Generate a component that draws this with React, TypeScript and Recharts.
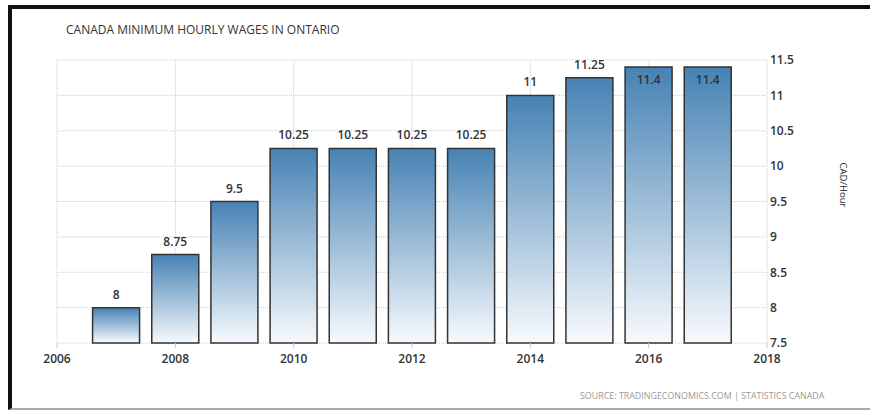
import { Bar, BarChart, CartesianGrid, LabelList, XAxis, YAxis } from "recharts";

const years = [2007, 2008, 2009, 2010, 2011, 2012, 2013, 2014, 2015, 2016, 2017];
const wages = [8, 8.75, 9.5, 10.25, 10.25, 10.25, 10.25, 11, 11.25, 11.4, 11.4];
const xTicks = [2006, 2008, 2010, 2012, 2014, 2016, 2018];
const yTicks = [7.5, 8, 8.5, 9, 9.5, 10, 10.5, 11, 11.5];

const data = years.map((year, i) => ({ year, wage: wages[i] }));

const FONT = "'Open Sans', sans-serif";

// etiqueta encima de la barra, o dentro si no cabe arriba
const WageLabel = (props: any) => {
    const { x, y, width, value } = props;
    const inside = y < 72;
    return (
        <text
            x={x + width / 2}
            y={inside ? y + 17 : y - 9}
            textAnchor="middle"
            fill="#333"
            fontSize={12}
            fontWeight={600}
            fontFamily={FONT}
        >
            {value}
        </text>
    );
};

const App = () => {
    return (
        <div style={{ position: "fixed", left: 0, top: 0, width: 870, height: 412, background: "#fff" }}>
            {/* marco */}
            <div
                style={{
                    position: "absolute",
                    left: 8,
                    top: 5,
                    width: 862,
                    height: 405,
                    borderTop: "4px solid #111",
                    borderLeft: "4px solid #111",
                    borderBottom: "2px solid #aaa",
                    boxSizing: "border-box",
                }}
            />
            <div
                style={{
                    position: "absolute",
                    left: 66,
                    top: 21,
                    fontFamily: FONT,
                    fontSize: 12,
                    color: "#333",
                    whiteSpace: "nowrap",
                }}
            >
                CANADA MINIMUM HOURLY WAGES IN ONTARIO
            </div>
            <div
                style={{
                    position: "absolute",
                    left: 843,
                    top: 185,
                    transform: "translate(-50%, -50%) rotate(90deg)",
                    fontFamily: FONT,
                    fontSize: 9.5,
                    color: "#222",
                    whiteSpace: "nowrap",
                }}
            >
                CAD/Hour
            </div>
            <div
                style={{
                    position: "absolute",
                    left: 580,
                    top: 389,
                    fontFamily: FONT,
                    fontSize: 8.9,
                    color: "#999",
                    whiteSpace: "nowrap",
                }}
            >
                SOURCE: TRADINGECONOMICS.COM | STATISTICS CANADA
            </div>
            <div style={{ position: "absolute", left: 0, top: 0 }}>
                <BarChart
                    width={870}
                    height={412}
                    data={data}
                    margin={{ top: 60, right: 63, left: 57, bottom: 39 }}
                >
                    <CartesianGrid stroke="#ccc" strokeDasharray="1 1" />
                    <XAxis
                        dataKey="year"
                        type="number"
                        domain={[2006, 2018]}
                        ticks={xTicks}
                        axisLine={false}
                        tickLine={{ stroke: "#ccc" }}
                        tickSize={5}
                        tickMargin={6}
                        height={30}
                        tick={{ fill: "#333", fontSize: 12, fontWeight: 600, fontFamily: FONT }}
                    />
                    <YAxis
                        orientation="right"
                        type="number"
                        domain={[7.5, 11.5]}
                        ticks={yTicks}
                        axisLine={false}
                        tickLine={false}
                        tickSize={0}
                        tickMargin={3}
                        width={40}
                        tick={{ fill: "#333", fontSize: 12, fontWeight: 600, fontFamily: FONT, textAnchor: "start" }}
                    />
                    <defs>
                        <linearGradient id="barFill" x1="0" y1="0" x2="0" y2="1">
                            <stop offset="0%" stopColor="#4682b4" />
                            <stop offset="100%" stopColor="#f7fafd" />
                        </linearGradient>
                    </defs>
                    <Bar
                        dataKey="wage"
                        barSize={47}
                        fill="url(#barFill)"
                        stroke="#333"
                        strokeWidth={1.5}
                        isAnimationActive={false}
                    >
                        <LabelList dataKey="wage" content={<WageLabel />} />
                    </Bar>
                </BarChart>
            </div>
        </div>
    );
};

export default App;
